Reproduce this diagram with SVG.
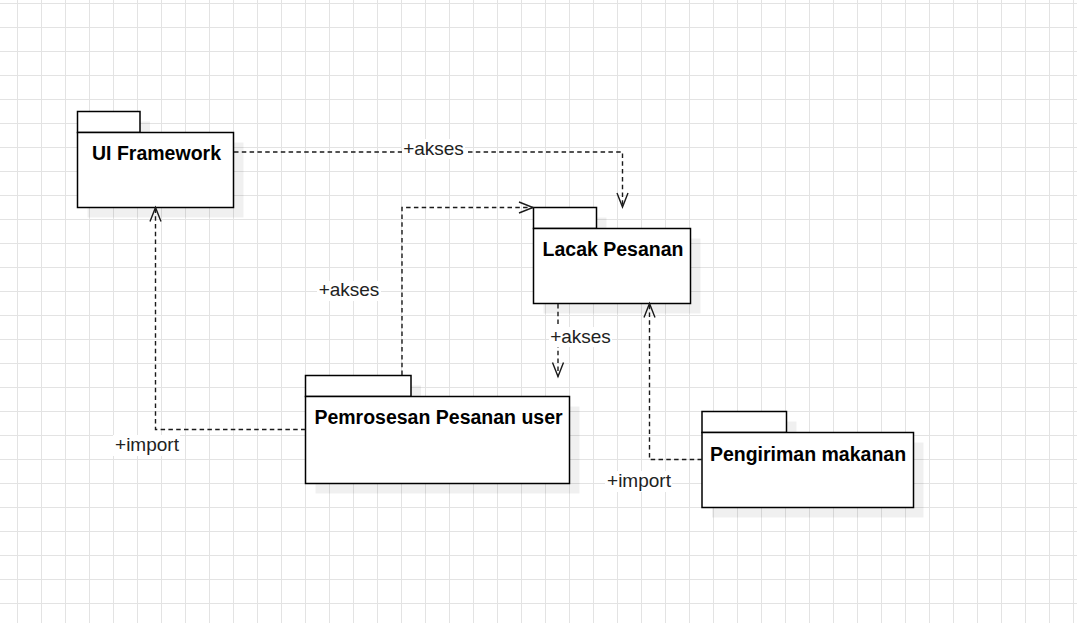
<svg xmlns="http://www.w3.org/2000/svg" width="1077" height="623" viewBox="0 0 1077 623">
<defs>
<pattern id="grid" width="24" height="24" patternUnits="userSpaceOnUse" x="17" y="3">
<path d="M0.5 0V24M0 0.5H24" fill="none" stroke="#e3e3e3" stroke-width="1"/>
</pattern>
<marker id="open" markerUnits="userSpaceOnUse" markerWidth="20" markerHeight="20" viewBox="-16 -10 20 20" refX="0" refY="0" orient="auto" overflow="visible">
<path d="M-14 -5.5L0 0L-14 5.5" fill="none" stroke="#1a1a1a" stroke-width="1.4" stroke-dasharray="none"/>
</marker>
<style>
.body{fill:#fff;stroke:#000;stroke-width:1.5}
.shadow{fill:#000;fill-opacity:0.06}
.name{font-family:"Liberation Sans",Arial,sans-serif;font-size:19.5px;font-weight:bold;fill:#000;text-anchor:middle}
.edge{fill:none;stroke:#1a1a1a;stroke-width:1.4;stroke-dasharray:4.5 3.3;marker-end:url(#open)}
.lbl{font-family:"Liberation Sans",Arial,sans-serif;font-size:19px;fill:#222;text-anchor:middle}
.lblbg{fill:#fff}
</style>
</defs>
<rect width="1077" height="623" fill="#fff"/>
<rect width="1077" height="623" fill="url(#grid)"/>

<g id="ui-framework">
<rect class="shadow" x="87.5" y="121.5" width="62.5" height="21"/>
<rect class="shadow" x="87.5" y="142.5" width="156" height="75"/>
<rect class="body" x="77.5" y="111.5" width="62.5" height="21"/>
<rect class="body" x="77.5" y="132.5" width="156" height="75"/>
<text class="name" x="156.5" y="160">UI Framework</text>
</g>

<g id="lacak-pesanan">
<rect class="shadow" x="543.5" y="217.5" width="63" height="21"/>
<rect class="shadow" x="543.5" y="238.5" width="157" height="75"/>
<rect class="body" x="533.5" y="207.5" width="63" height="21"/>
<rect class="body" x="533.5" y="228.5" width="157" height="75"/>
<text class="name" x="613" y="256">Lacak Pesanan</text>
</g>

<g id="pemrosesan-pesanan-user">
<rect class="shadow" x="315.5" y="385.5" width="105.5" height="21"/>
<rect class="shadow" x="315.5" y="406.5" width="264" height="87"/>
<rect class="body" x="305.5" y="375.5" width="105.5" height="21"/>
<rect class="body" x="305.5" y="396.5" width="264" height="87"/>
<text class="name" x="438.5" y="423.5">Pemrosesan Pesanan user</text>
</g>

<g id="pengiriman-makanan">
<rect class="shadow" x="712" y="421.5" width="84.5" height="21"/>
<rect class="shadow" x="712" y="442.5" width="211.5" height="75"/>
<rect class="body" x="702" y="411.5" width="84.5" height="21"/>
<rect class="body" x="702" y="432.5" width="211.5" height="75"/>
<text class="name" x="808" y="461">Pengiriman makanan</text>
</g>

<g id="connectors">
<path class="edge" d="M234 152H622.5V207"/>
<path class="edge" d="M402 375V207.5H533"/>
<path class="edge" d="M558 304V376.5"/>
<path class="edge" d="M702 459.5H649.5V303.5"/>
<path class="edge" d="M305.5 429.5H155.5V207.5"/>

<rect class="lblbg" x="402" y="139" width="63" height="20"/>
<text class="lbl" x="433.5" y="155">+akses</text>
<rect class="lblbg" x="317" y="281" width="64" height="20"/>
<text class="lbl" x="349" y="296">+akses</text>
<rect class="lblbg" x="549" y="327" width="63" height="20"/>
<text class="lbl" x="580.5" y="343">+akses</text>
<rect class="lblbg" x="113" y="435" width="67" height="21"/>
<text class="lbl" x="147" y="450.5">+import</text>
<rect class="lblbg" x="605" y="471" width="67" height="21"/>
<text class="lbl" x="639" y="487">+import</text>
</g>
</svg>
